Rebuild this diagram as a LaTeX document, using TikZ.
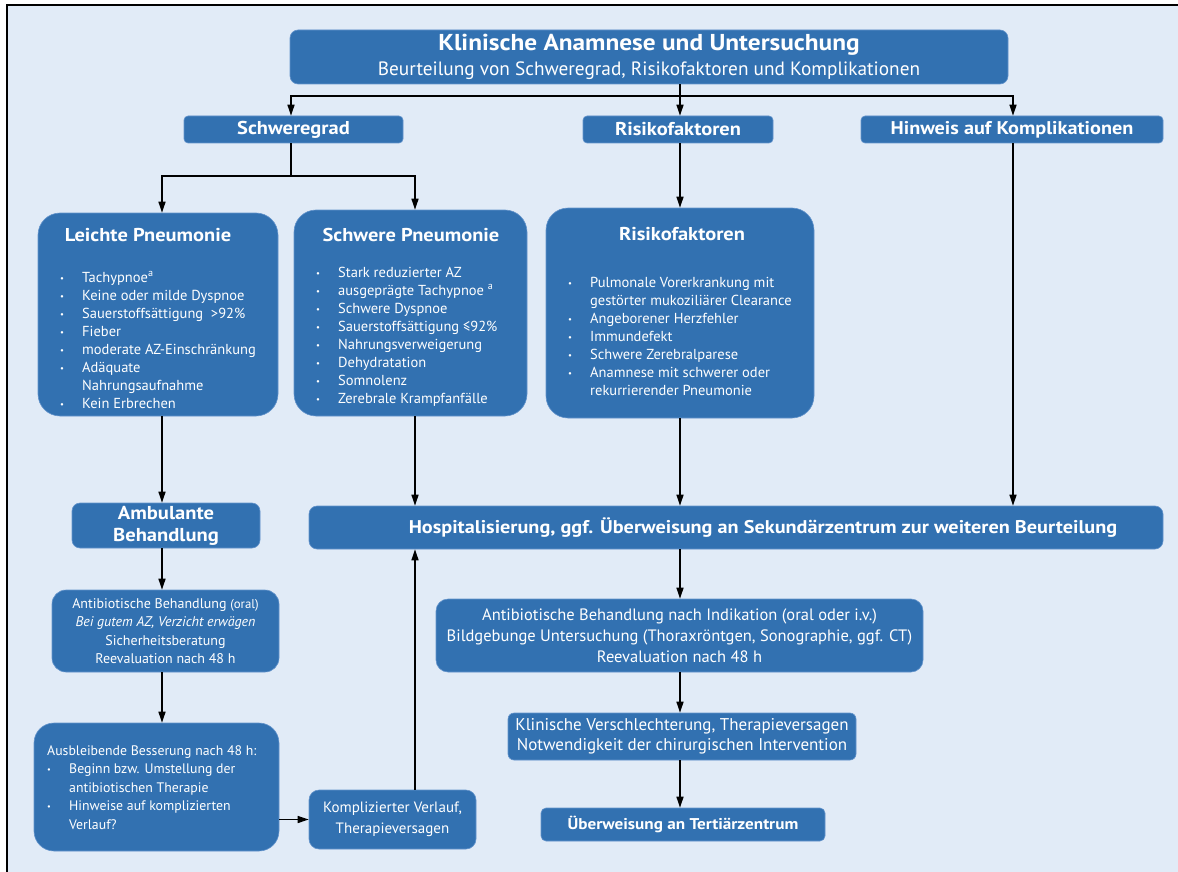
\documentclass[tikz,border=0pt]{standalone}
\usepackage{fontspec}
\usepackage{graphicx}
\setmainfont{PT Sans}[BoldFeatures={FakeStretch=1.1}]
\usetikzlibrary{arrows.meta,calc}
\definecolor{bg}{RGB}{225,235,247}
\definecolor{bx}{RGB}{50,113,177}
\definecolor{bxl}{RGB}{100,148,204}
\newcommand{\fsz}[2]{\fontsize{#1pt}{#2pt}\selectfont}
\newcommand{\bl}{\makebox[22pt][l]{\raisebox{0.6pt}{\scalebox{0.6}{\textbullet}}}}
\newcommand{\ci}{\hspace*{22pt}}
\begin{document}
\begin{tikzpicture}[x=1pt,y=-1pt,
  box/.style={fill=bx, draw=bxl, line width=0.6pt, text=white, align=center, inner sep=0pt},
  txt/.style={text=white, inner sep=0pt},
  ln/.style={line width=1.4pt, black},
  arr/.style={ln, -{Triangle[length=11pt,width=7pt]}}]
\useasboundingbox (0,0) rectangle (1178,872);
\fill[white] (0,0) rectangle (1178,872);
\fill[bg] (7,5) rectangle (1178,872);
\draw[line width=2pt] (7,872) -- (7,5) -- (1178,5);

% top
\node[box, minimum width=718pt, minimum height=54pt, rounded corners=8pt, font=\fsz{19}{25}] (title) at (649,57)
  {{\fsz{23}{25}\bfseries Klinische Anamnese und Untersuchung}\\{\fsz{19.3}{25}Beurteilung von Schweregrad, Risikofaktoren und Komplikationen}};
\node[box, minimum width=219pt, minimum height=27pt, rounded corners=4pt, font=\fsz{18.6}{20}\bfseries] (sg) at (293.5,129.5) {Schweregrad};
\node[box, minimum width=190pt, minimum height=27pt, rounded corners=4pt, font=\fsz{18.6}{20}\bfseries] (rf) at (678,129.5) {Risikofaktoren};
\node[box, minimum width=302pt, minimum height=27pt, rounded corners=4pt, font=\fsz{18.4}{20}\bfseries] (hw) at (1012,129.5) {Hinweis auf Komplikationen};

% big boxes
\node[box, minimum width=240pt, minimum height=203pt, rounded corners=22pt] (leicht) at (158,314.5) {};
\node[box, minimum width=233pt, minimum height=206pt, rounded corners=22pt] (schwer) at (410.5,313) {};
\node[box, minimum width=268pt, minimum height=210pt, rounded corners=22pt] (risk) at (680,313) {};

\node[txt, anchor=base, font=\fsz{18.6}{22}\bfseries] (leichtH) at (148,241) {Leichte Pneumonie};
\node[txt, anchor=base, font=\fsz{18.6}{22}\bfseries] (schwerH) at (411,241) {Schwere Pneumonie};
\node[txt, anchor=base, font=\fsz{18.6}{22}\bfseries] (riskH) at (682,240) {Risikofaktoren};

\node[txt, anchor=base west, font=\fsz{14.5}{18}] (leichtL) at (60,282) {\parbox[t]{300pt}{%
\bl Tachypnoe\textsuperscript{a}\\
\bl Keine oder milde Dyspnoe\\
\bl Sauerstoffsättigung\ \ >92\%\\
\bl Fieber\\
\bl moderate AZ-Einschränkung\\
\bl Adäquate\\
\ci Nahrungsaufnahme\\
\bl Kein Erbrechen}};
\node[txt, anchor=base west, font=\fsz{14.5}{18}] (schwerL) at (316,277) {\parbox[t]{300pt}{%
\bl Stark reduzierter AZ\\
\bl ausgeprägte Tachypnoe \textsuperscript{a}\\
\bl Schwere Dyspnoe\\
\bl Sauerstoffsättigung ≤92\%\\
\bl Nahrungsverweigerung\\
\bl Dehydratation\\
\bl Somnolenz\\
\bl Zerebrale Krampfanfälle}};
\node[txt, anchor=base west, font=\fsz{14.5}{18}] (riskL) at (568,287) {\parbox[t]{300pt}{%
\bl Pulmonale Vorerkrankung mit\\
\ci gestörter mukoziliärer Clearance\\
\bl Angeborener Herzfehler\\
\bl Immundefekt\\
\bl Schwere Zerebralparese\\
\bl Anamnese mit schwerer oder\\
\ci rekurrierender Pneumonie}};

% left column
\node[box, minimum width=188pt, minimum height=45pt, rounded corners=8pt, font=\fsz{18.7}{22}\bfseries] (amb) at (166,525.5) {Ambulante\\Behandlung};
\node[box, minimum width=227pt, minimum height=82pt, rounded corners=14pt, font=\fsz{14}{18.5}] (ab1) at (165.5,631)
  {Antibiotische Behandlung {\fsz{12.8}{18.5}(oral)}\\\textit{Bei gutem AZ, Verzicht erwägen}\\Sicherheitsberatung\\Reevaluation nach 48 h};
\node[box, minimum width=245pt, minimum height=128pt, rounded corners=20pt] (aus) at (156.5,787) {};
\node[txt, anchor=base west, font=\fsz{13.8}{18.5}] (ausL) at (47,755) {\parbox[t]{300pt}{%
Ausbleibende Besserung nach 48 h:\\
\bl Beginn bzw. Umstellung der\\
\ci antibiotischen Therapie\\
\bl Hinweise auf komplizierten\\
\ci Verlauf?}};
\node[box, minimum width=167pt, minimum height=59pt, rounded corners=10pt, font=\fsz{15}{21}] (komp) at (392.5,819.5) {Komplizierter Verlauf,\\Therapieversagen};

% right column
\node[box, minimum width=854pt, minimum height=43pt, rounded corners=8pt, font=\fsz{18.4}{20}\bfseries] (hosp) at (736,527.5)
  {\hspace*{54pt}Hospitalisierung, ggf. Überweisung an Sekundärzentrum zur weiteren Beurteilung};
\node[box, minimum width=487pt, minimum height=73pt, rounded corners=12pt, font=\fsz{16.5}{21}] (ab2) at (679.5,635.5)
  {Antibiotische Behandlung nach Indikation (oral oder i.v.)\\Bildgebunge Untersuchung (Thoraxröntgen, Sonographie, ggf. CT)\\Reevaluation nach 48 h};
\node[box, minimum width=348pt, minimum height=47pt, rounded corners=6pt, font=\fsz{17}{20}] (klin) at (682,736.5)
  {Klinische Verschlechterung, Therapieversagen\\Notwendigkeit der chirurgischen Intervention};
\node[box, minimum width=284pt, minimum height=33pt, rounded corners=5pt, font=\fsz{15.6}{20}\bfseries] (ub) at (683,824.5)
  {Überweisung an Tertiärzentrum};

% connectors
\coordinate (cA) at (162,0);
\coordinate (cB) at (415,0);
\coordinate (cC) at (680,0);
\coordinate (cD) at (1013,0);
\coordinate (j1) at (680,96);
\coordinate (j2) at (291,176);
\draw[ln] (title.south -| j1) -- (j1);
\draw[arr] (j1) -| (sg.north -| j2);
\draw[arr] (j1) -- (rf.north -| cC);
\draw[arr] (j1) -| (hw.north -| cD);
\draw[ln] (sg.south -| j2) -- (j2);
\draw[arr] (j2) -| (leicht.north -| cA);
\draw[arr] (j2) -| (schwer.north -| cB);
\draw[arr] (rf.south -| cC) -- (risk.north -| cC);
\draw[arr] (hw.south -| cD) -- (hosp.north -| cD);
\draw[arr] (leicht.south -| cA) -- (amb.north -| cA);
\draw[arr] (schwer.south -| cB) -- (hosp.north -| cB);
\draw[arr] (risk.south -| cC) -- (hosp.north -| cC);
\draw[arr] (amb.south -| cA) -- (ab1.north -| cA);
\draw[arr] (ab1.south -| cA) -- (aus.north -| cA);
\draw[arr] (aus.east |- komp.west) -- (komp.west);
\draw[arr] (komp.north -| cB) -- (hosp.south -| cB);
\draw[arr] (hosp.south -| cC) -- (ab2.north -| cC);
\draw[arr] (ab2.south -| cC) -- (klin.north -| cC);
\draw[arr] (klin.south -| cC) -- (ub.north -| cC);
\end{tikzpicture}
\end{document}
